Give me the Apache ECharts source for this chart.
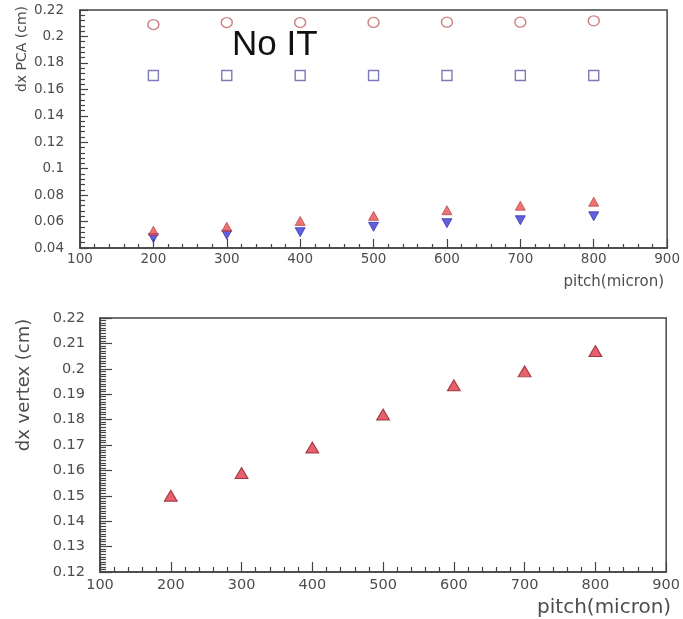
<!DOCTYPE html>
<html>
<head>
<meta charset="utf-8">
<script src="https://cdn.jsdelivr.net/npm/echarts@6/dist/echarts.min.js"></script>
<style>html,body{margin:0;padding:0;background:#fff}#c{width:683px;height:619px}</style>
</head>
<body>
<div id="c"></div>
<script>
// ---- data ----
const pitch = [200, 300, 400, 500, 600, 700, 800];
// top panel: dx PCA (cm)
const pcaCircle = [0.209, 0.2105, 0.2105, 0.2106, 0.2108, 0.2108, 0.2118];
const pcaSquare = [0.1705, 0.1705, 0.1705, 0.1705, 0.1705, 0.1705, 0.1705];
const pcaUp = [0.053, 0.056, 0.0605, 0.0643, 0.0686, 0.072, 0.075];
const pcaDown = [0.0476, 0.050, 0.052, 0.056, 0.0588, 0.061, 0.064];
// bottom panel: dx vertex (cm)
const vertexUp = [0.150, 0.159, 0.169, 0.182, 0.1935, 0.199, 0.207];
// axis ranges / ticks
const xRange = [100, 900, 100];
const yTopRange = [0.04, 0.22, 0.02];
const yBotRange = [0.12, 0.22, 0.01];
const texts = { top: 'No IT', yTop: 'dx PCA (cm)', yBot: 'dx vertex (cm)', xName: 'pitch(micron)' };

const pairs = (xs, ys) => xs.map((x, i) => [x, ys[i]]);
const FONT = 'DejaVu Sans';
const TXT = '#4d4d4d';
const AX = '#444';

function xAxis(gi, fs, major, minor, margin, nameFs, namePad, nameGap) {
  return {
    type: 'value', gridIndex: gi, min: xRange[0], max: xRange[1], interval: xRange[2],
    axisLine: { show: true, onZero: false, lineStyle: { color: AX, width: 1.5 } },
    axisTick: { show: true, inside: true, length: major, lineStyle: { color: AX, width: 1.2 } },
    minorTick: { show: true, splitNumber: 5, length: minor, lineStyle: { color: AX, width: 1.2 } },
    splitLine: { show: false },
    axisLabel: { show: true, margin: margin, color: TXT, fontFamily: FONT, fontSize: fs, showMinLabel: true, showMaxLabel: true },
    name: texts.xName, nameLocation: 'end', nameGap: nameGap,
    nameTextStyle: { color: TXT, fontFamily: FONT, fontSize: nameFs, align: 'right', verticalAlign: 'top', padding: namePad }
  };
}
function yAxis(gi, r, split, fs, major, minor, margin) {
  return {
    type: 'value', gridIndex: gi, min: r[0], max: r[1], interval: r[2],
    axisLine: { show: true, onZero: false, lineStyle: { color: AX, width: 1.5 } },
    axisTick: { show: true, inside: true, length: major, lineStyle: { color: AX, width: 1.2 } },
    minorTick: { show: true, splitNumber: split, length: minor, lineStyle: { color: AX, width: 1.2 } },
    splitLine: { show: false },
    axisLabel: { show: true, margin: margin, color: TXT, fontFamily: FONT, fontSize: fs, showMinLabel: true, showMaxLabel: true }
  };
}

const chart = echarts.init(document.getElementById('c'), null, { renderer: 'canvas' });
chart.setOption({
  animation: false,
  backgroundColor: '#fff',
  grid: [
    { left: 80, top: 10, right: 12, height: 238, show: true, borderColor: AX, borderWidth: 1.5, containLabel: false },
    { left: 100, top: 318, right: 15, height: 254, show: true, borderColor: AX, borderWidth: 1.5, containLabel: false }
  ],
  xAxis: [
    xAxis(0, 13.5, 9, 4, 4, 15, [27, 3, 0, 0], 0),
    xAxis(1, 14.5, 10, 5, 6, 20, [26, 0, 0, 0], 5)
  ],
  yAxis: [
    yAxis(0, yTopRange, 5, 13.5, 8, 5, 16),
    yAxis(1, yBotRange, 10, 14.5, 12, 6, 15)
  ],
  graphic: [
    { type: 'text', x: 232, y: 45, style: { text: texts.top, font: '35px "Liberation Sans"', fill: '#111', verticalAlign: 'middle', align: 'left' } },
    { type: 'text', x: 22, y: 49, rotation: Math.PI / 2, style: { text: texts.yTop, font: '14px "DejaVu Sans"', fill: TXT, verticalAlign: 'middle', align: 'center' } },
    { type: 'text', x: 24, y: 385, rotation: Math.PI / 2, style: { text: texts.yBot, font: '18px "DejaVu Sans"', fill: TXT, verticalAlign: 'middle', align: 'center' } }
  ],
  series: [
    { type: 'scatter', xAxisIndex: 0, yAxisIndex: 0, data: pairs(pitch, pcaCircle), symbol: 'circle', symbolSize: [11, 10],
      itemStyle: { color: '#fff', borderColor: '#c06060', borderWidth: 1.4 } },
    { type: 'scatter', xAxisIndex: 0, yAxisIndex: 0, data: pairs(pitch, pcaSquare), symbol: 'rect', symbolSize: 10,
      itemStyle: { color: '#fff', borderColor: '#5a5aa8', borderWidth: 1.4 } },
    { type: 'scatter', xAxisIndex: 0, yAxisIndex: 0, data: pairs(pitch, pcaDown), symbol: 'triangle', symbolRotate: 180, symbolSize: [10, 9],
      itemStyle: { color: '#3a3ad8', borderColor: '#2020a0', borderWidth: 0.8 } },
    { type: 'scatter', xAxisIndex: 0, yAxisIndex: 0, data: pairs(pitch, pcaUp), symbol: 'triangle', symbolSize: [10, 9],
      itemStyle: { color: '#e65050', borderColor: '#b03030', borderWidth: 0.8 } },
    { type: 'scatter', xAxisIndex: 1, yAxisIndex: 1, data: pairs(pitch, vertexUp), symbol: 'triangle', symbolSize: [13, 11],
      itemStyle: { color: '#e0384a', borderColor: '#8a1c24', borderWidth: 1 } }
  ]
});
</script>
</body>
</html>
